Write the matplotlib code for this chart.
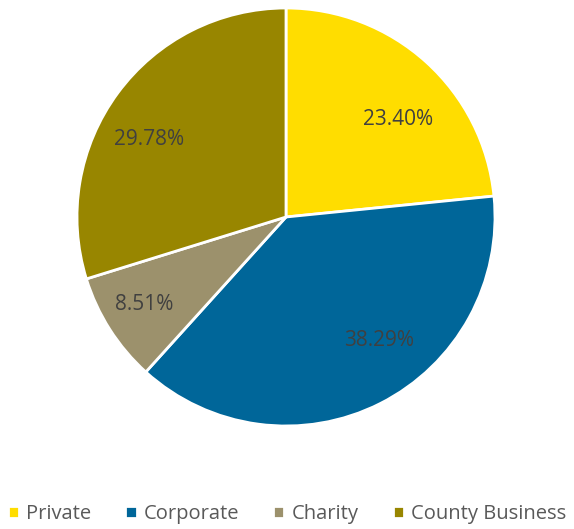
import numpy as np
import matplotlib.pyplot as plt

# Share of funding by source
labels = ["Private", "Corporate", "Charity", "County Business"]
shares = [23.40, 38.29, 8.51, 29.78]
colors = ["#FFDD00", "#006699", "#9C916C", "#988600"]

# per-label placement tweaks: (radius fraction, angle offset in degrees)
label_pos = [(0.72, -6), (0.73, 11), (0.79, -2), (0.76, 6)]

plt.rcParams['font.family'] = ['Open Sans', 'DejaVu Sans']

fig = plt.figure(figsize=(5.74, 5.29), dpi=100)
ax = fig.add_axes([77 / 574, 103 / 529, 418 / 574, 418 / 529])

wedges, _ = ax.pie(
    shares, colors=colors, startangle=90, counterclock=False,
    wedgeprops=dict(edgecolor="white", linewidth=2),
)

# percentage labels placed around each wedge's middle
for w, v, (r, off) in zip(wedges, shares, label_pos):
    mid = np.deg2rad((w.theta1 + w.theta2) / 2 + off)
    ax.text(r * np.cos(mid), r * np.sin(mid) - 0.015, f"{v:.2f}%",
            ha="center", va="center", color="#404040", fontsize=15)

ax.set_aspect("equal")
ax.set_xlim(-1.0, 1.0)
ax.set_ylim(-1.0, 1.0)

leg = fig.legend(
    wedges, labels, loc="lower center", bbox_to_anchor=(0.5, -0.025),
    ncol=4, frameon=False, fontsize=14.5, handlelength=0.55, handleheight=0.55,
    handletextpad=0.35, columnspacing=1.7, labelcolor="#595959",
)

fig.savefig("out.png", dpi=100)
